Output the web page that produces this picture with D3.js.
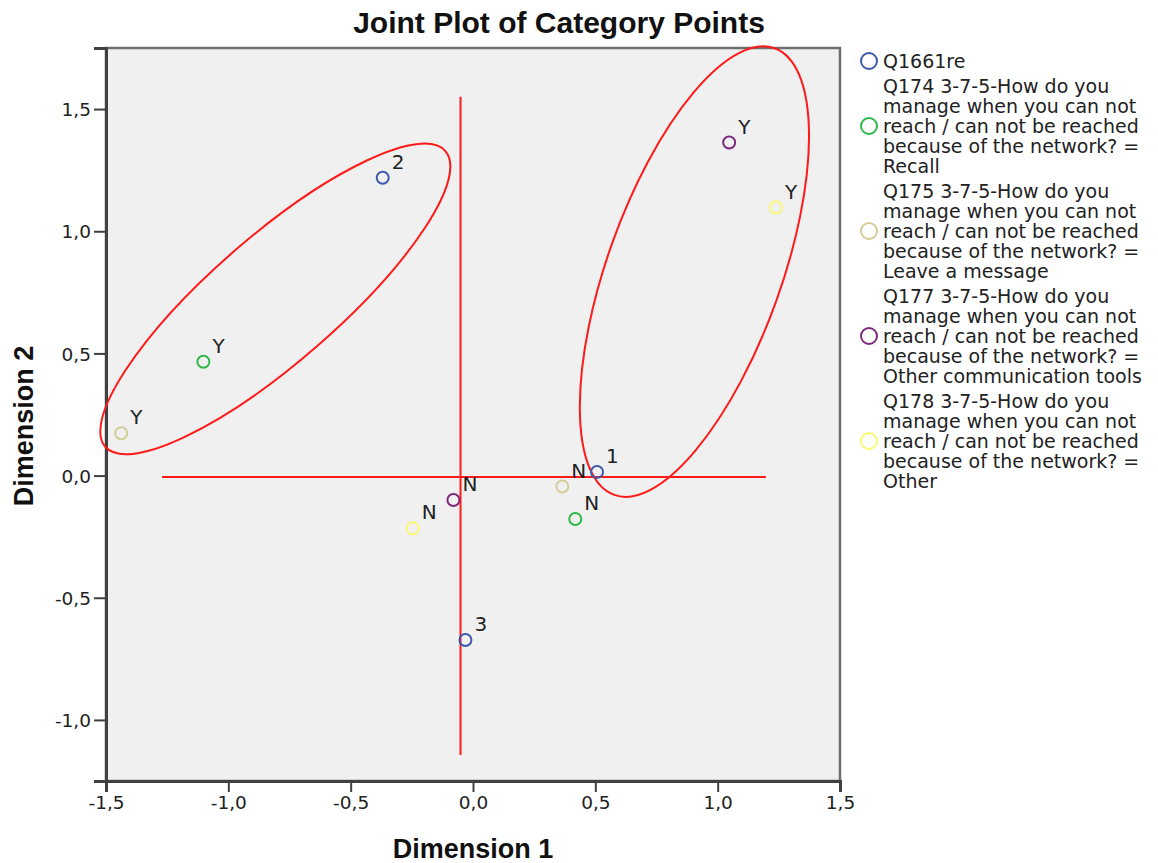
<!DOCTYPE html>
<html>
<head>
<meta charset="utf-8">
<script src="https://cdn.jsdelivr.net/npm/d3@7"></script>
<style>
  html, body { margin: 0; padding: 0; background: #ffffff; }
  svg { display: block; }
</style>
</head>
<body>
<svg id="chart" width="1158" height="863"></svg>
<script>
// ---------- DATA ----------
const chartTitle = "Joint Plot of Category Points";
const xAxisTitle = "Dimension 1";
const yAxisTitle = "Dimension 2";

const xTicks = [-1.5, -1.0, -0.5, 0.0, 0.5, 1.0, 1.5];
const xTickLabels = ["-1,5", "-1,0", "-0,5", "0,0", "0,5", "1,0", "1,5"];
const yTicks = [-1.0, -0.5, 0.0, 0.5, 1.0, 1.5];
const yTickLabels = ["-1,0", "-0,5", "0,0", "0,5", "1,0", "1,5"];

// Category points per variable
const q1661reLabels = ["1", "2", "3"];
const q1661reX = [0.507, -0.369, -0.031];
const q1661reY = [0.015, 1.219, -0.673];

const q174Labels = ["Y", "N"];
const q174X = [-1.102, 0.418];
const q174Y = [0.466, -0.178];

const q175Labels = ["Y", "N"];
const q175X = [-1.438, 0.365];
const q175Y = [0.173, -0.045];

const q177Labels = ["Y", "N"];
const q177X = [1.047, -0.080];
const q177Y = [1.363, -0.100];

const q178Labels = ["Y", "N"];
const q178X = [1.238, -0.246];
const q178Y = [1.097, -0.216];

// Legend entries (wrapped lines as in the original)
const legendQ1661re = ["Q1661re"];
const legendQ174 = ["Q174 3-7-5-How do you", "manage when you can not", "reach / can not be reached", "because of the network? =", "Recall"];
const legendQ175 = ["Q175 3-7-5-How do you", "manage when you can not", "reach / can not be reached", "because of the network? =", "Leave a message"];
const legendQ177 = ["Q177 3-7-5-How do you", "manage when you can not", "reach / can not be reached", "because of the network? =", "Other communication tools"];
const legendQ178 = ["Q178 3-7-5-How do you", "manage when you can not", "reach / can not be reached", "because of the network? =", "Other"];

const seriesColors = ["#3E58AC", "#2EB848", "#D3CE97", "#7C287D", "#FBF873"];

// Hand-drawn red annotations (data coordinates)
const ellipseCx = [-0.808, 0.905];
const ellipseCy = [0.723, 0.835];
const ellipseRx = [0.921, 0.970];
const ellipseRy = [0.258, 0.356];
const ellipseAngle = [41, 70.25];
const hLineX = [-1.271, 1.197];
const hLineY = [-0.006];
const vLineX = [-0.051];
const vLineY = [1.55, -1.144];

// ---------- BUILD ----------
const series = [
  { labels: q1661reLabels, xs: q1661reX, ys: q1661reY, legend: legendQ1661re },
  { labels: q174Labels, xs: q174X, ys: q174Y, legend: legendQ174 },
  { labels: q175Labels, xs: q175X, ys: q175Y, legend: legendQ175 },
  { labels: q177Labels, xs: q177X, ys: q177Y, legend: legendQ177 },
  { labels: q178Labels, xs: q178X, ys: q178Y, legend: legendQ178 }
].map((s, i) => ({ ...s, color: seriesColors[i],
  points: s.labels.map((l, j) => ({ label: l, x: s.xs[j], y: s.ys[j] })) }));

const svg = d3.select("#chart");
const plotLeft = 106, plotRight = 840, plotTop = 48, plotBottom = 781;

const x = d3.scaleLinear().domain([-1.5, 1.5]).range([plotLeft, plotRight]);
const y = d3.scaleLinear().domain([-1.25, 1.75]).range([plotBottom, plotTop]);

const txtFont = "'DejaVu Sans', Verdana, sans-serif";
const boldFont = "'Liberation Sans', Arial, sans-serif";

// Plot background & frame
svg.append("rect")
  .attr("x", plotLeft).attr("y", plotTop)
  .attr("width", plotRight - plotLeft).attr("height", plotBottom - plotTop)
  .attr("fill", "#F0F0F0")
  .attr("stroke", "#6e6e6e").attr("stroke-width", 2.5);

// Axes
const xAxis = svg.append("g")
  .attr("transform", `translate(0,${plotBottom})`)
  .call(d3.axisBottom(x).tickValues(xTicks).tickFormat((d, i) => xTickLabels[i]).tickSizeOuter(0).tickSize(11).tickPadding(4));
const yAxis = svg.append("g")
  .attr("transform", `translate(${plotLeft},0)`)
  .call(d3.axisLeft(y).tickValues(yTicks).tickFormat((d, i) => yTickLabels[i]).tickSizeOuter(0).tickSize(12).tickPadding(3));

[xAxis, yAxis].forEach(g => {
  g.select(".domain").attr("stroke", "#404040").attr("stroke-width", 3);
  g.selectAll(".tick line").attr("stroke", "#404040").attr("stroke-width", 2);
  g.selectAll(".tick text").attr("fill", "#222").style("font-family", txtFont).style("font-size", "18.5px");
});
yAxis.selectAll(".tick text").attr("dy", "0.36em");

// Red annotation lines
svg.append("line")
  .attr("x1", x(hLineX[0])).attr("x2", x(hLineX[1]))
  .attr("y1", y(hLineY[0])).attr("y2", y(hLineY[0]))
  .attr("stroke", "#ff1a1a").attr("stroke-width", 2);
svg.append("line")
  .attr("x1", x(vLineX[0])).attr("x2", x(vLineX[0]))
  .attr("y1", y(vLineY[0])).attr("y2", y(vLineY[1]))
  .attr("stroke", "#ff1a1a").attr("stroke-width", 2);

// Red ellipses
ellipseCx.forEach((cx, i) => {
  svg.append("ellipse")
    .attr("transform", `translate(${x(cx)},${y(ellipseCy[i])}) rotate(${-ellipseAngle[i]})`)
    .attr("rx", x(ellipseRx[i]) - x(0))
    .attr("ry", y(0) - y(ellipseRy[i]))
    .attr("fill", "none")
    .attr("stroke", "#ff1a1a").attr("stroke-width", 2);
});

// Points
series.forEach(s => {
  const g = svg.append("g");
  g.selectAll("circle").data(s.points).join("circle")
    .attr("cx", d => x(d.x)).attr("cy", d => y(d.y))
    .attr("r", 6)
    .attr("fill", "none")
    .attr("stroke", s.color).attr("stroke-width", 2);
  g.selectAll("text").data(s.points).join("text")
    .attr("x", d => x(d.x) + 9).attr("y", d => y(d.y) - 9)
    .attr("fill", "#222")
    .style("font-family", txtFont).style("font-size", "20px")
    .text(d => d.label);
});

// Titles
svg.append("text")
  .attr("x", 559).attr("y", 33)
  .attr("text-anchor", "middle")
  .style("font-family", boldFont).style("font-weight", "bold").style("font-size", "30px")
  .attr("fill", "#111")
  .text(chartTitle);

svg.append("text")
  .attr("x", 473).attr("y", 858)
  .attr("text-anchor", "middle")
  .style("font-family", boldFont).style("font-weight", "bold").style("font-size", "27px")
  .attr("fill", "#111")
  .text(xAxisTitle);

svg.append("text")
  .attr("transform", "translate(33,426) rotate(-90)")
  .attr("text-anchor", "middle")
  .style("font-family", boldFont).style("font-weight", "bold").style("font-size", "27px")
  .attr("fill", "#111")
  .text(yAxisTitle);

// Legend
const legend = svg.append("g");
let baseline = 68;
const lineGap = 20, blockGap = 25;
series.forEach((s, i) => {
  const lines = s.legend;
  const mid = Math.floor(lines.length / 2);
  legend.append("circle")
    .attr("cx", 869).attr("cy", baseline + mid * lineGap - 7)
    .attr("r", 8)
    .attr("fill", "none").attr("stroke", s.color).attr("stroke-width", 2);
  lines.forEach((ln, j) => {
    legend.append("text")
      .attr("x", 883).attr("y", baseline + j * lineGap)
      .attr("fill", "#222")
      .style("font-family", txtFont).style("font-size", "19px")
      .text(ln);
  });
  baseline += (lines.length - 1) * lineGap + blockGap;
});
</script>
</body>
</html>
